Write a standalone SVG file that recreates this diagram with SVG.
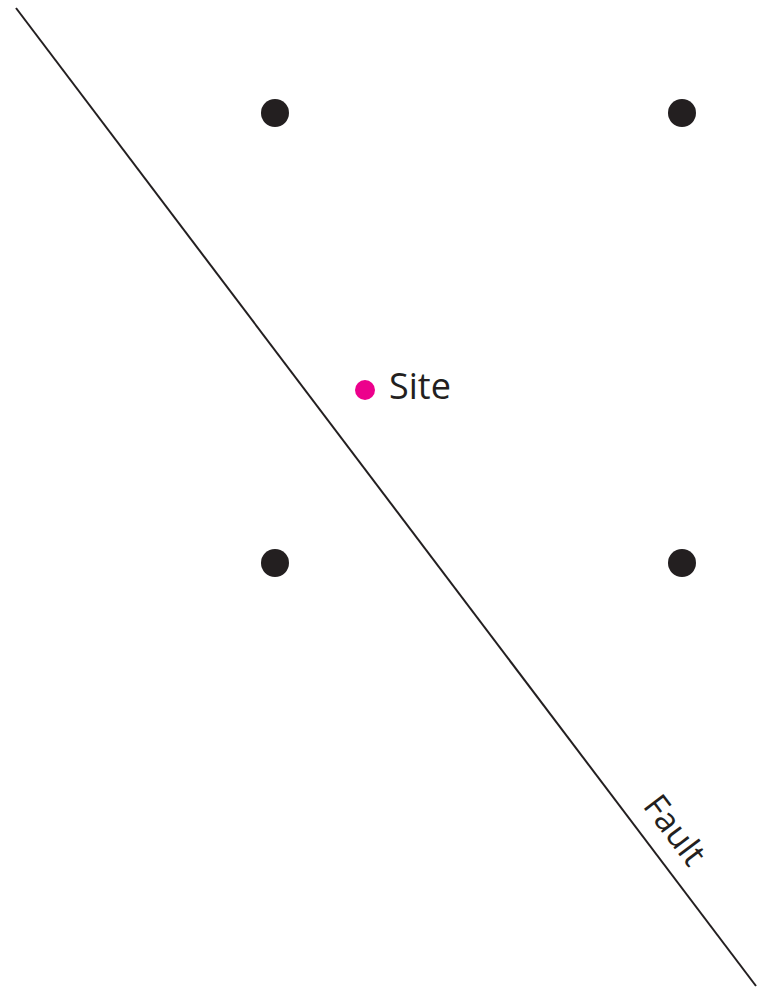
<svg xmlns="http://www.w3.org/2000/svg" width="757" height="1002" viewBox="0 0 757 1002">
<style>
.well{fill:#231f20}
.lbl{font-family:"Open Sans","Noto Sans",sans-serif;fill:#231f20}
</style>
<rect width="757" height="1002" fill="#fff"/>
<g id="connectors">
<line id="fault" x1="16" y1="8" x2="756" y2="986" stroke="#231f20" stroke-width="2"/>
</g>
<g id="well-nw"><circle class="well" cx="275" cy="113" r="14"/></g>
<g id="well-ne"><circle class="well" cx="682" cy="113" r="14"/></g>
<g id="well-sw"><circle class="well" cx="275" cy="563" r="14"/></g>
<g id="well-se"><circle class="well" cx="682" cy="563" r="14"/></g>
<g id="site"><circle cx="365" cy="390" r="10" fill="#ec008c"/><text class="lbl" x="389" y="399" font-size="36">Site</text></g>
<g id="fault-label"><text class="lbl" font-size="34" transform="translate(642,806) rotate(52.9)">Fault</text></g>
</svg>
